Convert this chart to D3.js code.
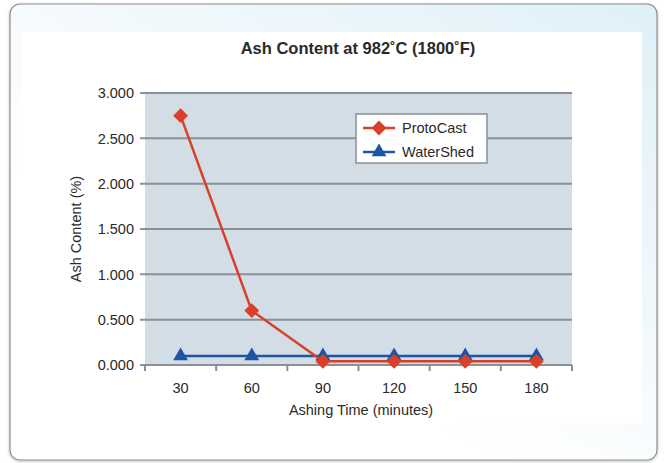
<!DOCTYPE html>
<html><head><meta charset="utf-8">
<script src="https://cdn.jsdelivr.net/npm/d3@7"></script>
<style>html,body{margin:0;padding:0;background:#fff;}svg{display:block;}</style>
</head><body>
<script>
const categories = ["30","60","90","120","150","180"];
const protoCast = [2.75, 0.60, 0.04, 0.04, 0.04, 0.04];
const waterShed = [0.10, 0.10, 0.10, 0.10, 0.10, 0.10];
const yTicks = [0, 0.5, 1.0, 1.5, 2.0, 2.5, 3.0];
const seriesNames = ["ProtoCast", "WaterShed"];

const W = 665, H = 463;
const font = "'Liberation Sans', Arial, Helvetica, sans-serif";
const txt = "#2a2a2a";
const svg = d3.select("body").append("svg").attr("width", W).attr("height", H);

const defs = svg.append("defs");
const grad = defs.append("linearGradient").attr("id","bg").attr("x1","100%").attr("y1","0%").attr("x2","40%").attr("y2","70%");
grad.append("stop").attr("offset","0%").attr("stop-color","#dff0f8");
grad.append("stop").attr("offset","100%").attr("stop-color","#ffffff");
const flt = defs.append("filter").attr("id","sh").attr("x","-5%").attr("y","-5%").attr("width","110%").attr("height","110%");
flt.append("feDropShadow").attr("dx",0).attr("dy",1).attr("stdDeviation",1.5).attr("flood-color","#000").attr("flood-opacity",0.25);

svg.append("rect").attr("x",10).attr("y",4).attr("width",647).attr("height",456).attr("rx",10)
  .attr("fill","url(#bg)").attr("stroke","#8d8d8d").attr("stroke-width",1.2).attr("filter","url(#sh)");
svg.append("rect").attr("x",22).attr("y",32).attr("width",620).attr("height",391).attr("fill","#fff");

const m = {left:145, right:572, top:93, bottom:365};
const x = d3.scaleBand().domain(categories).range([m.left, m.right]);
const y = d3.scaleLinear().domain([0,3]).range([m.bottom, m.top]);

svg.append("rect").attr("x",m.left).attr("y",m.top).attr("width",m.right-m.left).attr("height",m.bottom-m.top).attr("fill","#d2dde6");

// gridlines
svg.append("g").selectAll("line").data(yTicks).join("line")
  .attr("x1",m.left-5).attr("x2",m.right).attr("y1",d=>y(d)).attr("y2",d=>y(d))
  .attr("stroke","#8a9096").attr("stroke-width",2);

// y axis labels
svg.append("g").selectAll("text").data(yTicks).join("text")
  .attr("x",134).attr("y",d=>y(d)).attr("dy","0.36em").attr("text-anchor","end")
  .attr("font-family",font).attr("font-size",14.5).attr("fill",txt)
  .text(d=>d3.format(".3f")(d));

// x axis ticks
const bounds = categories.map(c=>x(c)).concat([m.right]);
svg.append("g").selectAll("line").data(bounds).join("line")
  .attr("x1",d=>d).attr("x2",d=>d).attr("y1",m.bottom).attr("y2",m.bottom+6)
  .attr("stroke","#8a9096").attr("stroke-width",2);
svg.append("g").selectAll("text").data(categories).join("text")
  .attr("x",d=>x(d)+x.bandwidth()/2).attr("y",m.bottom+28).attr("text-anchor","middle")
  .attr("font-family",font).attr("font-size",14.5).attr("fill",txt).text(d=>d);

const cx = (d,i)=>x(categories[i])+x.bandwidth()/2;
const line = d3.line().x(cx).y(d=>y(d));
const red = "#d8402a", blue = "#1c56a3";

function drawSeries(data, color, sym, size){
  svg.append("path").datum(data).attr("d",line).attr("fill","none").attr("stroke",color).attr("stroke-width",2.5);
  svg.append("g").selectAll("path").data(data).join("path")
    .attr("transform",(d,i)=>`translate(${cx(d,i)},${y(d)})`)
    .attr("d",d3.symbol().type(sym).size(size)).attr("fill",color);
}
drawSeries(waterShed, blue, d3.symbolTriangle, 95);
drawSeries(protoCast, red, d3.symbolDiamond2, 140);

// legend
const lg = svg.append("g");
lg.append("rect").attr("x",356).attr("y",114).attr("width",131).attr("height",49).attr("fill","#fff").attr("stroke","#8a9096").attr("stroke-width",1.5);
const lItems = [{n:seriesNames[0],c:red,s:d3.symbolDiamond2,sz:140},{n:seriesNames[1],c:blue,s:d3.symbolTriangle,sz:95}];
lItems.forEach((it,i)=>{
  const ly = 128 + i*24;
  lg.append("line").attr("x1",363).attr("x2",395).attr("y1",ly).attr("y2",ly).attr("stroke",it.c).attr("stroke-width",2.5);
  lg.append("path").attr("transform",`translate(379,${ly})`).attr("d",d3.symbol().type(it.s).size(it.sz)).attr("fill",it.c);
  lg.append("text").attr("x",402).attr("y",ly).attr("dy","0.36em").attr("font-family",font).attr("font-size",14.5).attr("fill",txt).text(it.n);
});

// title & axis labels
svg.append("text").attr("x",358).attr("y",54).attr("text-anchor","middle").attr("font-family",font)
  .attr("font-size",16.5).attr("font-weight","bold").attr("fill",txt).text("Ash Content at 982˚C (1800˚F)");
svg.append("text").attr("x",361).attr("y",415).attr("text-anchor","middle").attr("font-family",font)
  .attr("font-size",14.5).attr("fill",txt).text("Ashing Time (minutes)");
svg.append("text").attr("transform","translate(81,229) rotate(-90)").attr("text-anchor","middle").attr("font-family",font)
  .attr("font-size",14.5).attr("fill",txt).text("Ash Content (%)");
</script>
</body></html>
